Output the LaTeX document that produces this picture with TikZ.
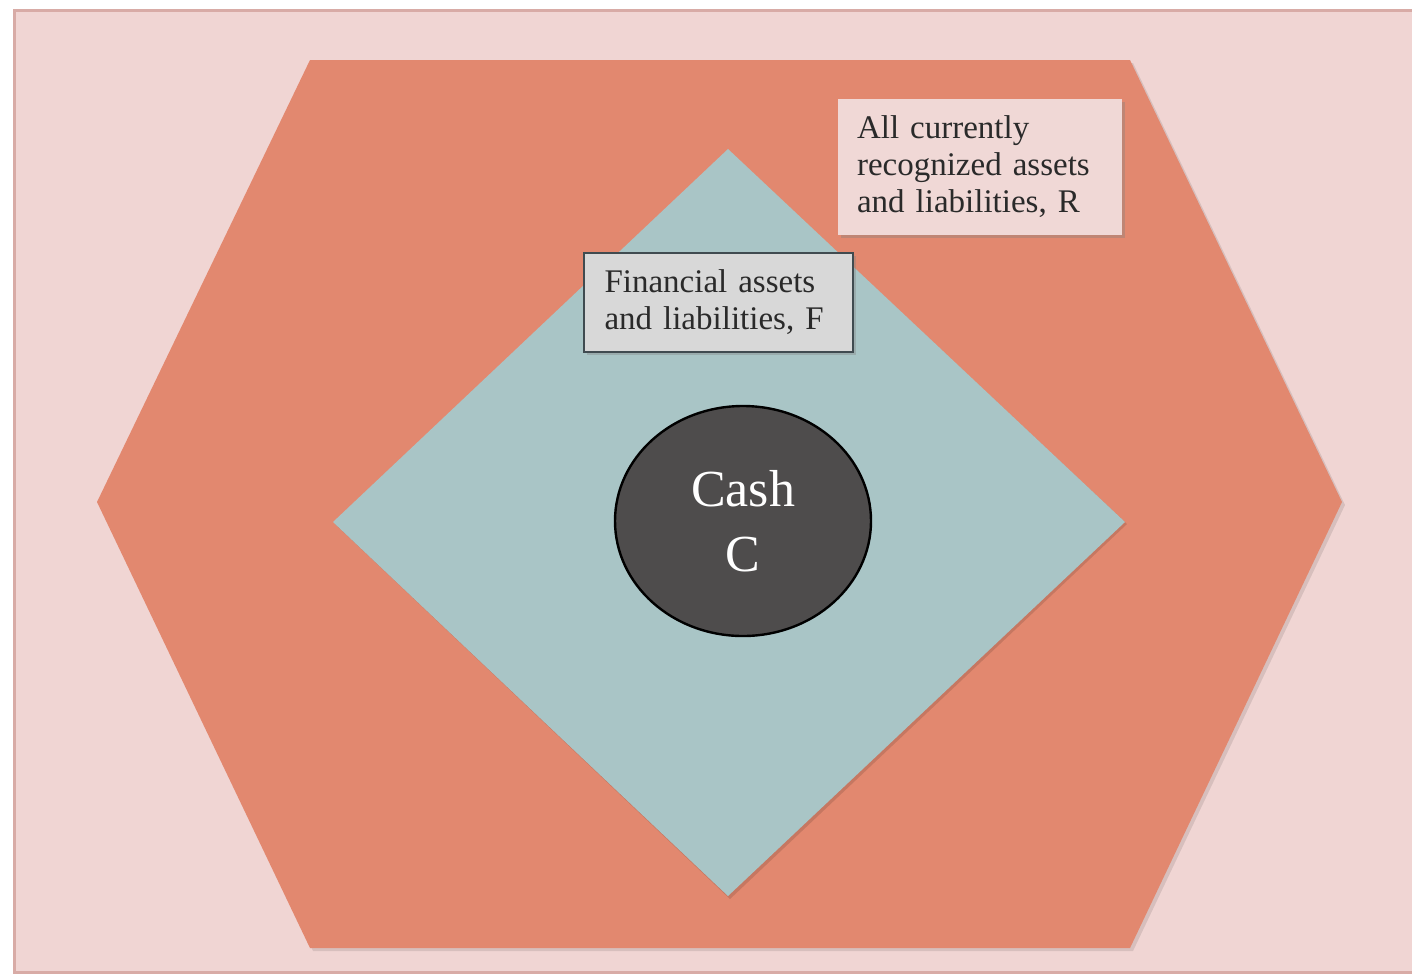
\documentclass[tikz,border=0pt]{standalone}
\usepackage{fontspec}
\setmainfont{Liberation Serif}
\usetikzlibrary{shapes.geometric,shadows}

\definecolor{pagebg}{HTML}{F0D5D3}
\definecolor{pageline}{HTML}{D8ABA6}
\definecolor{hexfill}{HTML}{E2886F}
\definecolor{diafill}{HTML}{A9C5C6}
\definecolor{cashfill}{HTML}{4E4C4C}
\definecolor{ffill}{HTML}{D8D8D8}
\definecolor{fline}{HTML}{404B50}
\definecolor{rfill}{HTML}{F0D8D6}
\definecolor{inkdark}{HTML}{2A2A2A}

\tikzset{
  labelbox/.style={rectangle, inner sep=0pt, text=inkdark, align=left,
    font=\fontsize{16.5}{18.5}\selectfont,
    drop shadow={shadow xshift=1.5pt, shadow yshift=-1.5pt, opacity=0.35}},
  cashnode/.style={ellipse, draw=black, line width=1.2pt, fill=cashfill,
    text=white, align=center, inner sep=0pt,
    font=\fontsize{26}{30.5}\selectfont},
}

\begin{document}
\begin{tikzpicture}[x=0.5pt, y=-0.5pt]
  \useasboundingbox (0,0) rectangle (1412,976);

  % page panel
  \fill[white] (0,0) rectangle (1412,976);
  \draw[pageline, fill=pagebg, line width=1.5pt] (14,10) rectangle (1430,972);

  % hexagon: all recognized items
  \fill[black, opacity=0.10] (313,63) -- (1133,63) -- (1345,505) -- (1133,951) -- (313,951) -- (100,505) -- cycle;
  \fill[hexfill] (310,60) -- (1130,60) -- (1342,502) -- (1130,948) -- (310,948) -- (97,502) -- cycle;

  % diamond: financial items
  \fill[black, opacity=0.12] (730,152) -- (1127,524) -- (730,899) -- (335,524) -- cycle;
  \fill[diafill] (728,149) -- (1125,522) -- (728,896) -- (333,522) -- cycle;

  % cash
  \node[cashnode, minimum width=128pt, minimum height=115pt] (cash) at (743,521) {\raisebox{2pt}{Cash}\\C};

  % label boxes
  \node[labelbox, fill=rfill, minimum width=142pt, minimum height=68pt,
        text width=123pt] (rlabel) at (980,167)
        {All currently\\recognized assets\\and liabilities, R};
  \node[labelbox, fill=ffill, draw=fline, line width=1pt,
        minimum width=134.5pt, minimum height=49.5pt,
        text width=114pt] (flabel) at (718.5,302.5)
        {Financial assets\\and liabilities, F};
\end{tikzpicture}
\end{document}
